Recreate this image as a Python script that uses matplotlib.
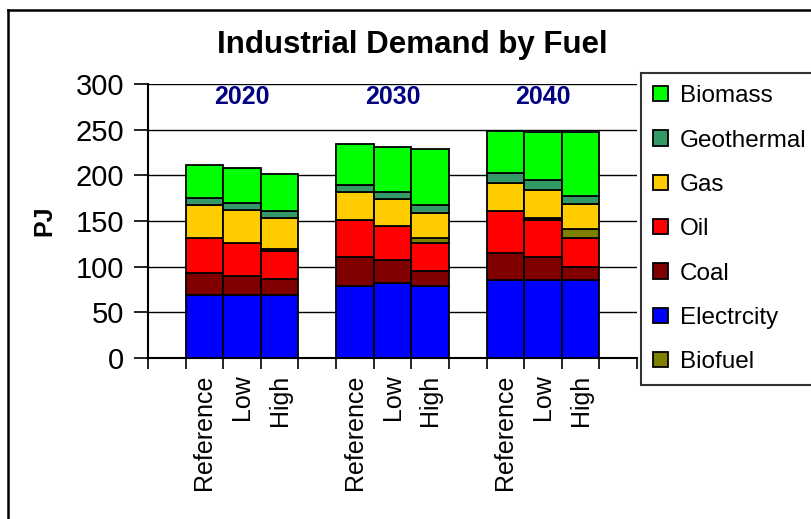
import matplotlib
matplotlib.use("Agg")
import matplotlib.pyplot as plt
import numpy as np

plt.rcParams["font.family"] = ["Liberation Sans", "DejaVu Sans"]

# stacked order from the bottom up
years = ["2020", "2030", "2040"]
scenarios = ["Reference", "Low", "High"]
electricity = [69, 69, 69, 79, 82, 79, 85, 85, 85]
coal = [24, 21, 18, 32, 25, 16, 30, 26, 15]
oil = [38, 36, 30, 40, 37, 31, 46, 40, 31]
biofuel = [0, 0, 2, 0, 0, 5, 0, 2, 10]
gas = [36, 36, 34, 31, 30, 28, 31, 31, 28]
geothermal = [8, 8, 8, 7, 8, 8, 11, 11, 8]
biomass = [36, 38, 40, 45, 49, 62, 46, 52, 70]

series = [
    ("Electrcity", electricity, "#0000FF"),
    ("Coal", coal, "#800000"),
    ("Oil", oil, "#FF0000"),
    ("Biofuel", biofuel, "#808000"),
    ("Gas", gas, "#FFCC00"),
    ("Geothermal", geothermal, "#339966"),
    ("Biomass", biomass, "#00FF00"),
]
legend_order = ["Biomass", "Geothermal", "Gas", "Oil", "Coal", "Electrcity", "Biofuel"]

# one empty slot before each year group and one at the end
pos = []
for g in range(len(years)):
    for s in range(len(scenarios)):
        pos.append(1 + g * 4 + s)
pos = np.array(pos)

fig = plt.figure(figsize=(8.11, 5.19), dpi=100)
ax = fig.add_axes([148 / 811, 1 - 358 / 519, 489 / 811, 274 / 519])

bottom = np.zeros(len(pos))
handles = {}
for name, vals, color in series:
    bars = ax.bar(pos, vals, width=1.0, bottom=bottom, color=color,
                  edgecolor="black", linewidth=1.3, zorder=3, label=name)
    handles[name] = bars
    bottom += np.array(vals)

ax.set_xlim(-0.5, 12.5)
ax.set_ylim(0, 300)
ax.set_yticks(range(0, 301, 50))
ax.yaxis.grid(True, color="black", linewidth=1.0, zorder=0)
ax.tick_params(axis="y", labelsize=21, length=10, width=1.2, direction="out", pad=7)

ax.set_xticks(pos)
ax.set_xticklabels(scenarios * len(years), rotation=90, fontsize=18)
ax.set_xticks(np.arange(-0.5, 12.6, 1.0), minor=True)
ax.tick_params(axis="x", which="major", length=0, pad=12)
ax.tick_params(axis="x", which="minor", length=8, width=1.2, direction="out")

for sp in ["left", "bottom"]:
    ax.spines[sp].set_linewidth(1.5)
for sp in ["top", "right"]:
    ax.spines[sp].set_visible(False)

for g, yr in enumerate(years):
    ax.text(2 + g * 4, 286, yr, ha="center", va="center", fontsize=18,
            fontweight="bold", color="#000080")

ax.set_ylabel("PJ", fontsize=18, fontweight="bold", labelpad=14)

fig.text(412 / 811, 1 - 45 / 519, "Industrial Demand by Fuel", ha="center",
         va="center", fontsize=22.5, fontweight="bold")

leg = fig.legend([handles[n] for n in legend_order], legend_order,
                 loc="upper left", bbox_to_anchor=(641 / 811, 1 - 73 / 519),
                 fontsize=17.5, frameon=True, fancybox=False, edgecolor="black",
                 handlelength=0.6, handleheight=0.6, handletextpad=0.5,
                 labelspacing=0.92, borderpad=0.5, borderaxespad=0)
leg.get_frame().set_linewidth(1.5)

# outer chart border
fig.add_artist(plt.Line2D([8 / 811, 8 / 811], [0, 1 - 10 / 519],
                          transform=fig.transFigure, color="black", linewidth=1.8))
fig.add_artist(plt.Line2D([8 / 811, 1], [1 - 10 / 519, 1 - 10 / 519],
                          transform=fig.transFigure, color="black", linewidth=1.8))

fig.savefig("out.png", dpi=100)
